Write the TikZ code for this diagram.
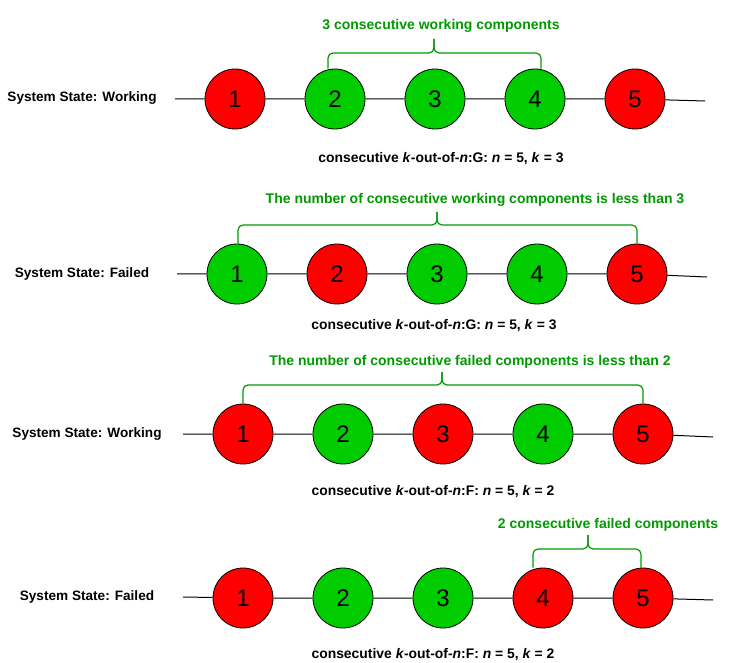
\documentclass[tikz,border=0pt]{standalone}
\usepackage{fontspec}
\setmainfont{Liberation Sans}
\definecolor{failred}{HTML}{FF0000}
\definecolor{workgreen}{HTML}{00CC00}
\definecolor{notegreen}{HTML}{009900}
\tikzset{
    comp/.style={circle, draw=black, line width=0.8pt, minimum size=60pt, inner sep=0pt,
        font=\fontsize{24}{24}\selectfont},
    wire/.style={black, line width=1pt},
    curly/.style={notegreen, line width=1.2pt, rounded corners=5pt},
    notetext/.style={text=notegreen, font=\bfseries\fontsize{14}{16}\selectfont},
    statetext/.style={font=\bfseries\fontsize{13.6}{16}\selectfont},
    captext/.style={font=\bfseries\fontsize{13.9}{16}\selectfont}
}
\begin{document}
\begin{tikzpicture}[x=1pt, y=-1pt]
    \useasboundingbox (0,0) rectangle (753,663);

    % Row 1: k-out-of-n:G, working
    \node[statetext] (s1) at (82,98) {System State: Working};
    \foreach \c [count=\i] in {failred,workgreen,workgreen,workgreen,failred}
        \node[comp, fill=\c] (a\i) at (135+100*\i,99) {\i};
    \coordinate (a0) at (175,99);
    \coordinate (a6) at (705,101);
    \draw[wire] (a0) -- (a1) (a1) -- (a2) (a2) -- (a3) (a3) -- (a4) (a4) -- (a5) (a5) -- (a6);
    \coordinate (t1) at (434,39);
    \draw[curly] ([xshift=-7pt]a2.north) |- (t1 |- 0,53) -- (t1);
    \draw[curly] (t1) -- (t1 |- 0,53) -| ([xshift=6pt]a4.north);
    \node[notetext] (n1) at (441,26) {3 consecutive working components};
    \node[captext] (k1) at (441,159) {consecutive \textit{k}-out-of-\textit{n}:G: \textit{n} = 5, \textit{k} = 3};

    % Row 2: k-out-of-n:G, failed
    \node[statetext] (s2) at (82,274) {System State: Failed};
    \foreach \c [count=\i] in {workgreen,failred,workgreen,workgreen,failred}
        \node[comp, fill=\c] (b\i) at (137+100*\i,274) {\i};
    \coordinate (b0) at (177,274);
    \coordinate (b6) at (707,277);
    \draw[wire] (b0) -- (b1) (b1) -- (b2) (b2) -- (b3) (b3) -- (b4) (b4) -- (b5) (b5) -- (b6);
    \coordinate (t2) at (437,212);
    \draw[curly] ([xshift=1pt]b1.north) |- (t2 |- 0,225) -- (t2);
    \draw[curly] (t2) -- (t2 |- 0,225) -| (b5.north);
    \node[notetext] (n2) at (475,200) {The number of consecutive working components is less than 3};
    \node[captext] (k2) at (434,326) {consecutive \textit{k}-out-of-\textit{n}:G: \textit{n} = 5, \textit{k} = 3};

    % Row 3: k-out-of-n:F, working
    \node[statetext] (s3) at (87,434) {System State: Working};
    \foreach \c [count=\i] in {failred,workgreen,failred,workgreen,failred}
        \node[comp, fill=\c] (c\i) at (143+100*\i,434) {\i};
    \coordinate (c0) at (183,434);
    \coordinate (c6) at (713,437);
    \draw[wire] (c0) -- (c1) (c1) -- (c2) (c2) -- (c3) (c3) -- (c4) (c4) -- (c5) (c5) -- (c6);
    \coordinate (t3) at (442,372);
    \draw[curly] (c1.north) |- (t3 |- 0,385) -- (t3);
    \draw[curly] (t3) -- (t3 |- 0,385) -| (c5.north);
    \node[notetext] (n3) at (470,362) {The number of consecutive failed components is less than 2};
    \node[captext] (k3) at (433,492) {consecutive \textit{k}-out-of-\textit{n}:F: \textit{n} = 5, \textit{k} = 2};

    % Row 4: k-out-of-n:F, failed
    \node[statetext] (s4) at (87,597) {System State: Failed};
    \foreach \c [count=\i] in {failred,workgreen,workgreen,failred,failred}
        \node[comp, fill=\c] (d\i) at (143+100*\i,598) {\i};
    \coordinate (d0) at (183,597);
    \coordinate (d6) at (713,600);
    \draw[wire] (d0) -- (d1) (d1) -- (d2) (d2) -- (d3) (d3) -- (d4) (d4) -- (d5) (d5) -- (d6);
    \coordinate (t4) at (588,535);
    \draw[curly] ([xshift=-10pt]d4.north) |- (t4 |- 0,549) -- (t4);
    \draw[curly] (t4) -- (t4 |- 0,549) -| ([xshift=-2pt]d5.north);
    \node[notetext] (n4) at (608,525) {2 consecutive failed components};
    \node[captext] (k4) at (433,655) {consecutive \textit{k}-out-of-\textit{n}:F: \textit{n} = 5, \textit{k} = 2};
\end{tikzpicture}
\end{document}
